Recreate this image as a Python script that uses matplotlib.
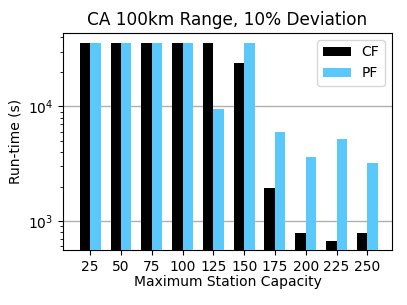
import matplotlib
matplotlib.use("Agg")
import matplotlib.pyplot as plt
import numpy as np

capacities = ["25", "50", "75", "100", "125", "150", "175", "200", "225", "250"]
cf_runtime = [36000, 36000, 36000, 36000, 36000, 23800, 1940, 790, 673, 780]
pf_runtime = [36000, 36000, 36000, 36000, 9500, 36000, 6030, 3650, 5240, 3190]

fig = plt.figure(figsize=(4.07, 3.05), dpi=100)
ax = fig.add_axes([0.155, 0.18, 0.808, 0.712])

x = np.arange(len(capacities))
w = 0.34
ax.bar(x - w / 2, cf_runtime, width=w, color="black", label="CF", zorder=3)
ax.bar(x + w / 2, pf_runtime, width=w, color="#5ac8fa", label="PF", zorder=3)
ax.set_yscale("log")
ax.set_ylim(558, 43800)
ax.set_xlim(-0.88, 9.8)
ax.set_xticks(x)
ax.set_xticklabels(capacities)
ax.grid(axis="y", which="major", color="#b0b0b0", linewidth=1, zorder=0)
ax.set_axisbelow(True)
ax.tick_params(labelsize=10)
ax.set_xlabel("Maximum Station Capacity", fontsize=10, labelpad=1)
ax.set_ylabel("Run-time (s)", fontsize=10)
ax.set_title("CA 100km Range, 10% Deviation", fontsize=12.2)
ax.legend(fontsize=10, loc="upper right")
fig.savefig("out.png", dpi=100)
